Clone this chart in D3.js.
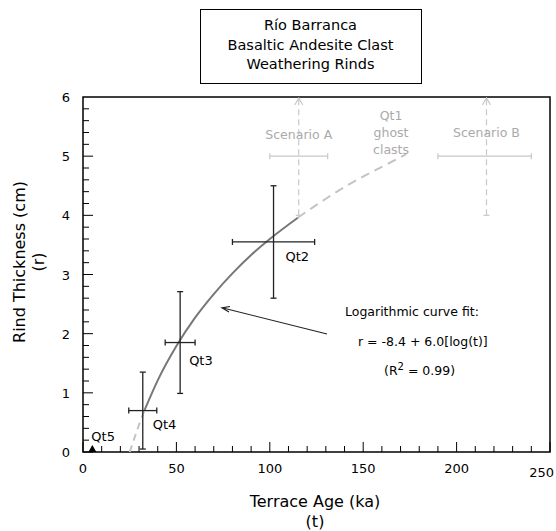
<!DOCTYPE html>
<html><head><meta charset="utf-8">
<script src="https://cdn.jsdelivr.net/npm/d3@7/dist/d3.min.js"></script>
<style>body{margin:0;background:#fff}svg{display:block;font-family:"DejaVu Sans",Verdana,sans-serif}</style>
</head><body>
<script>
// ---- data ----
const titleLines = ["Río Barranca", "Basaltic Andesite Clast", "Weathering Rinds"];
const pointLabels = ["Qt2", "Qt3", "Qt4"];
const pointAge = [102, 52, 32];
const pointAgeErr = [22, 8, 7.5];
const pointRind = [3.55, 1.85, 0.7];
const pointRindErr = [0.95, 0.86, 0.65];
const qt5Age = [5];
const qt5Rind = [0];
// fit curve r = -8.4 + 6.0 log(t)
const fitLowAge = [25, 28, 30, 33];
const fitLowRind = [0, 0.28, 0.46, 0.71];
const fitSolidAge = [33, 40, 50, 60, 70, 80, 90, 100, 115];
const fitSolidRind = [0.71, 1.21, 1.79, 2.27, 2.67, 3.02, 3.33, 3.6, 3.96];
const fitHighAge = [115, 130, 145, 160, 173];
const fitHighRind = [3.96, 4.28, 4.57, 4.82, 5.03];
const scenarioNames = ["Scenario A", "Scenario B"];
const scenarioAge = [115.5, 216];
const scenarioAgeLo = [100, 190];
const scenarioAgeHi = [131, 240];
const scenarioRind = [5.0, 5.0];
const scenarioRindLow = [4.0, 4.0];
const xTicks = [0, 50, 100, 150, 200, 250];
const yTicks = [0, 1, 2, 3, 4, 5, 6];

// ---- layout ----
const W = 556, H = 531;
const L = 83, R = 550, T = 97, B = 452;
const svg = d3.select("body").append("svg").attr("width", W).attr("height", H);
const x = d3.scaleLinear().domain([0, 250]).range([L, R]);
const y = d3.scaleLinear().domain([0, 6]).range([B, T]);

// title box
svg.append("rect").attr("x", 200.5).attr("y", 9.5).attr("width", 221).attr("height", 74)
  .attr("fill", "none").attr("stroke", "#000").attr("stroke-width", 1);
svg.selectAll(".title").data(titleLines).join("text")
  .attr("x", 310.5).attr("y", (d, i) => 30 + i * 19.5)
  .attr("text-anchor", "middle").attr("font-size", 14.5).attr("fill", "#000").text(d => d);

// frame
svg.append("rect").attr("x", L).attr("y", T).attr("width", R - L).attr("height", B - T)
  .attr("fill", "none").attr("stroke", "#000").attr("stroke-width", 1.5);

// minor / major ticks
const xMinor = d3.range(0, 251, 10);
svg.append("g").selectAll("line").data(xMinor).join("line")
  .attr("x1", d => x(d)).attr("x2", d => x(d))
  .attr("y1", B).attr("y2", d => B - (d % 50 === 0 ? 10 : 6))
  .attr("stroke", "#000").attr("stroke-width", 1);
const yMinor = d3.range(0, 30).map(i => i * 0.2);
svg.append("g").selectAll("line").data(yMinor).join("line")
  .attr("y1", d => y(d)).attr("y2", d => y(d))
  .attr("x1", L).attr("x2", d => L + (Math.abs(d - Math.round(d)) < 1e-6 ? 10 : 6))
  .attr("stroke", "#000").attr("stroke-width", 1);

// tick labels
svg.append("g").selectAll("text").data(xTicks).join("text")
  .attr("x", d => x(d)).attr("y", d => d === 250 ? 477 : 473)
  .attr("text-anchor", d => d === 250 ? "end" : "middle")
  .attr("dx", d => d === 250 ? 4 : 0)
  .attr("font-size", 13).text(d => d);
svg.append("g").selectAll("text").data(yTicks).join("text")
  .attr("x", 70).attr("y", d => y(d) + 5)
  .attr("text-anchor", "end").attr("font-size", 13).text(d => d);

// axis titles
svg.append("text").attr("x", 315).attr("y", 507).attr("text-anchor", "middle")
  .attr("font-size", 16).text("Terrace Age (ka)");
svg.append("text").attr("x", 315).attr("y", 527).attr("text-anchor", "middle")
  .attr("font-size", 16).text("(t)");
svg.append("text").attr("transform", "translate(25,262) rotate(-90)").attr("text-anchor", "middle")
  .attr("font-size", 16).text("Rind Thickness (cm)");
svg.append("text").attr("transform", "translate(44,262) rotate(-90)").attr("text-anchor", "middle")
  .attr("font-size", 16).text("(r)");

// fit curve
const line = d3.line().x(d => x(d[0])).y(d => y(d[1])).curve(d3.curveMonotoneX);
svg.append("path").datum(d3.zip(fitLowAge, fitLowRind)).attr("d", line)
  .attr("fill", "none").attr("stroke", "#c4c4c4").attr("stroke-width", 2).attr("stroke-dasharray", "7,5");
svg.append("path").datum(d3.zip(fitHighAge, fitHighRind)).attr("d", line)
  .attr("fill", "none").attr("stroke", "#c4c4c4").attr("stroke-width", 2).attr("stroke-dasharray", "9,6");
svg.append("path").datum(d3.zip(fitSolidAge, fitSolidRind)).attr("d", line)
  .attr("fill", "none").attr("stroke", "#777").attr("stroke-width", 2);

// scenarios
const scen = d3.range(scenarioNames.length);
const sg = svg.append("g").attr("stroke", "#c8c8c8").attr("stroke-width", 1.2).attr("fill", "none");
sg.selectAll(".sv").data(scen).join("line")
  .attr("x1", i => x(scenarioAge[i])).attr("x2", i => x(scenarioAge[i]))
  .attr("y1", i => y(scenarioRindLow[i])).attr("y2", y(6) + 2)
  .attr("stroke-dasharray", "6,4");
sg.selectAll(".sc").data(scen).join("line")
  .attr("x1", i => x(scenarioAge[i]) - 3).attr("x2", i => x(scenarioAge[i]) + 3)
  .attr("y1", i => y(scenarioRindLow[i])).attr("y2", i => y(scenarioRindLow[i]));
sg.selectAll(".sa").data(scen).join("path")
  .attr("d", i => `M${x(scenarioAge[i]) - 4},${y(6) + 8}L${x(scenarioAge[i])},${y(6) + 1}L${x(scenarioAge[i]) + 4},${y(6) + 8}`);
sg.selectAll(".sh").data(scen).join("line")
  .attr("x1", i => x(scenarioAgeLo[i])).attr("x2", i => x(scenarioAgeHi[i]))
  .attr("y1", i => y(scenarioRind[i])).attr("y2", i => y(scenarioRind[i]));
sg.selectAll(".shc").data(scen.flatMap(i => [[i, scenarioAgeLo[i]], [i, scenarioAgeHi[i]]])).join("line")
  .attr("x1", d => x(d[1])).attr("x2", d => x(d[1]))
  .attr("y1", d => y(scenarioRind[d[0]]) - 3).attr("y2", d => y(scenarioRind[d[0]]) + 3);
svg.selectAll(".stxt").data(scen).join("text")
  .attr("x", i => x(scenarioAge[i])).attr("y", i => y(scenarioRind[i]) - 17 - (i === 1 ? 2 : 0))
  .attr("text-anchor", "middle").attr("font-size", 12.5).attr("fill", "#aaa").text(i => scenarioNames[i]);
svg.selectAll(".gtxt").data(["Qt1", "ghost", "clasts"]).join("text")
  .attr("x", 391).attr("y", (d, i) => 120 + i * 17)
  .attr("text-anchor", "middle").attr("font-size", 12.5).attr("fill", "#aaa").text(d => d);

// error bars
const pts = d3.range(pointLabels.length);
const eg = svg.append("g").attr("stroke", "#222").attr("stroke-width", 1.3);
eg.selectAll(".v").data(pts).join("line")
  .attr("x1", i => x(pointAge[i])).attr("x2", i => x(pointAge[i]))
  .attr("y1", i => y(pointRind[i] - pointRindErr[i])).attr("y2", i => y(pointRind[i] + pointRindErr[i]));
eg.selectAll(".h").data(pts).join("line")
  .attr("y1", i => y(pointRind[i])).attr("y2", i => y(pointRind[i]))
  .attr("x1", i => x(pointAge[i] - pointAgeErr[i])).attr("x2", i => x(pointAge[i] + pointAgeErr[i]));
eg.selectAll(".vc").data(pts.flatMap(i => [[i, -1], [i, 1]])).join("line")
  .attr("x1", d => x(pointAge[d[0]]) - 3).attr("x2", d => x(pointAge[d[0]]) + 3)
  .attr("y1", d => y(pointRind[d[0]] + d[1] * pointRindErr[d[0]]))
  .attr("y2", d => y(pointRind[d[0]] + d[1] * pointRindErr[d[0]]));
eg.selectAll(".hc").data(pts.flatMap(i => [[i, -1], [i, 1]])).join("line")
  .attr("y1", d => y(pointRind[d[0]]) - 3).attr("y2", d => y(pointRind[d[0]]) + 3)
  .attr("x1", d => x(pointAge[d[0]] + d[1] * pointAgeErr[d[0]]))
  .attr("x2", d => x(pointAge[d[0]] + d[1] * pointAgeErr[d[0]]));

// point labels
const labDx = [12, 9, 10], labDy = [19, 22, 18];
svg.selectAll(".pl").data(pts).join("text")
  .attr("x", i => x(pointAge[i]) + labDx[i]).attr("y", i => y(pointRind[i]) + labDy[i])
  .attr("font-size", 13).text(i => pointLabels[i]);

// Qt5 triangle
svg.selectAll(".tri").data(qt5Age).join("path")
  .attr("d", (d, i) => `M${x(d) - 4},${y(qt5Rind[i])}L${x(d)},${y(qt5Rind[i]) - 7}L${x(d) + 4},${y(qt5Rind[i])}Z`)
  .attr("fill", "#000");
svg.append("text").attr("x", x(qt5Age[0]) - 1).attr("y", y(qt5Rind[0]) - 11)
  .attr("font-size", 13).text("Qt5");

// annotation
svg.append("path").attr("d", "M327,334L223,308").attr("stroke", "#222").attr("stroke-width", 1.2).attr("fill", "none");
svg.append("path").attr("d", "M230,306.5L222,307.8L229,312").attr("stroke", "#222").attr("stroke-width", 1.2).attr("fill", "none");
svg.append("text").attr("x", 345).attr("y", 316).attr("font-size", 12.5).text("Logarithmic curve fit:");
svg.append("text").attr("x", 358).attr("y", 346).attr("font-size", 12.5).text("r = -8.4 + 6.0[log(t)]");
const r2 = svg.append("text").attr("x", 384).attr("y", 375).attr("font-size", 12.5);
r2.append("tspan").text("(R");
r2.append("tspan").attr("dy", -5).attr("font-size", 10).text("2");
r2.append("tspan").attr("dy", 5).text(" = 0.99)");
</script>
</body></html>
